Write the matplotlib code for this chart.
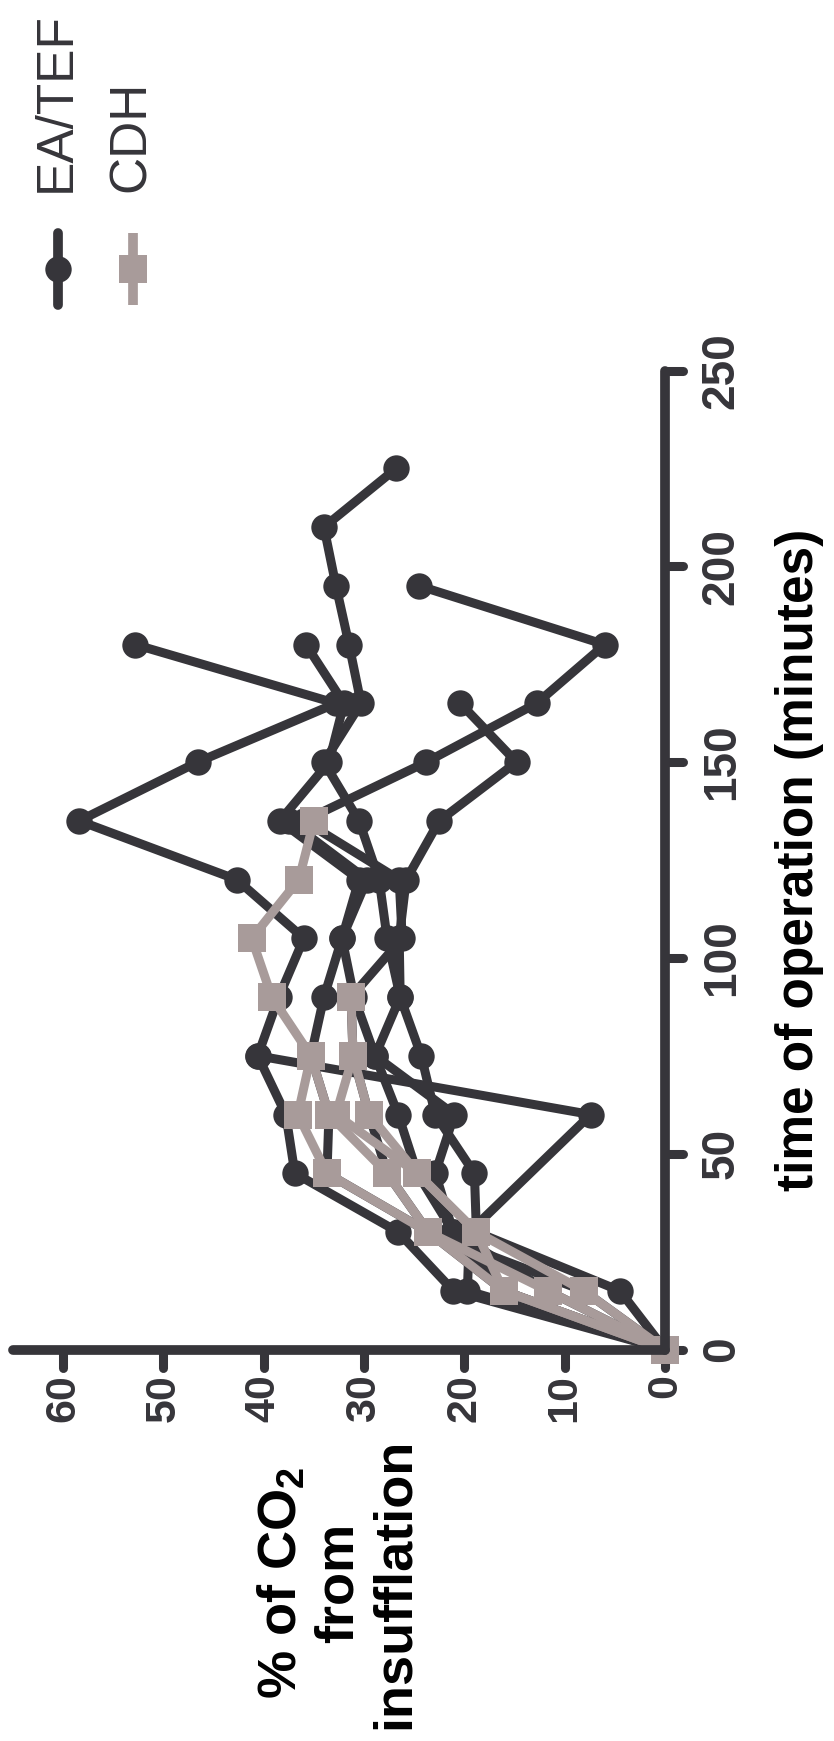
import numpy as np
import matplotlib
matplotlib.use("Agg")
import matplotlib.pyplot as plt
from matplotlib.lines import Line2D
from matplotlib.markers import MarkerStyle, TICKDOWN, TICKRIGHT

# ---- data: % of CO2 from insufflation, sampled every 15 minutes ----
minutes = [0, 15, 30, 45, 60, 75, 90, 105, 120, 135, 150, 165, 180, 195, 210, 225]

# EA/TEF patients (nan = no sample at that time point)
ea_tef_a = [0, 4.5, 18.8, 19.0, 22.9, 24.3, 26.4, 27.7, 28.5, 30.5, 34.0, 30.3, 31.5, 32.8, 34.0, 26.8]
ea_tef_b = [0, 8.1, 23.6, 27.7, 29.5, 31.1, 31.3, 26.2, 26.5, 36.0, 23.8, 12.8, 6.0, 24.5]
ea_tef_c = [0, 16.1, 21.1, 22.9, 21.0, 28.9, 26.4, 26.5, 25.8, 22.5, 14.8, 20.4]
ea_tef_d = [0, 19.7, 19.5, np.nan, 7.4, 40.6, 38.5, 36.0, 42.7, 58.4, 46.6, 32.8, 52.8]
ea_tef_e = [0, 11.7, 21.1, 24.7, 26.6, 28.9, 31.0, 32.2, 30.5, 38.4, 33.5, 32.0, 35.8]
ea_tef_f = [0, 21.1, 26.6, 36.9, 37.8, 40.6]
ea_tef_g = [0, 16.1, 23.6, 33.7, 33.5, 35.3, 34.0, 32.2, 29.7, 37.5]

# CDH patients
cdh_1 = [0, 16.1, 23.6, 33.7, 36.6, 35.3, 39.2, 41.2, 36.5, 35.0]
cdh_2 = [0, 8.1, 18.8, 24.7, 29.5, 31.1, 31.3]
cdh_3 = [0, 11.7, 23.6, 27.7, 33.5, 35.3]
cdh_4 = [0, 16.1, 18.8, 24.7, 32.8, 31.1]

ea_tef_series = [ea_tef_a, ea_tef_b, ea_tef_c, ea_tef_d, ea_tef_e, ea_tef_f, ea_tef_g]
cdh_series = [cdh_1, cdh_2, cdh_3, cdh_4]

x_ticks = [0, 10, 20, 30, 40, 50, 60]
y_ticks = [0, 50, 100, 150, 200, 250]

DARK = "#36353a"
GREY = "#a89b9a"

plt.rcParams.update({
    "font.family": ["Liberation Sans", "DejaVu Sans"],
    "font.weight": "bold",
    "mathtext.default": "regular",
    "text.color": DARK,
})

W, H = 834, 1741
fig = plt.figure(figsize=(W / 100, H / 100), dpi=100)


def fx(px):
    return px / W


def fy(py):
    return 1 - py / H


# axes: % CO2 runs right-to-left, time runs bottom-to-top
ax = fig.add_axes([fx(13), fy(1349.5), fx(665) - fx(13), fy(370.5) - fy(1349.5)])


def draw(series, color, marker, ms):
    for vals in series:
        v = np.asarray(vals, dtype=float)
        t = np.asarray(minutes[:len(v)], dtype=float)
        ok = ~np.isnan(v)
        ax.plot(v[ok], t[ok], color=color, lw=6.5, marker=marker, ms=ms,
                mew=0, clip_on=False, solid_joinstyle="round",
                solid_capstyle="round")


draw(ea_tef_series, DARK, "o", 19)
draw(cdh_series, GREY, "s", 19.5)

ax.set_xlim(65, 0)
ax.set_ylim(0, 250)

for side in ("top", "left"):
    ax.spines[side].set_visible(False)
for side in ("bottom", "right"):
    ax.spines[side].set_linewidth(7)
    ax.spines[side].set_color(DARK)
    ax.spines[side].set_capstyle("round")

ax.xaxis.set_ticks_position("bottom")
ax.yaxis.set_ticks_position("right")
ax.yaxis.set_label_position("right")
ax.set_xticks(x_ticks)
ax.set_yticks(y_ticks)

ax.tick_params(axis="both", direction="out", length=13, width=6.5,
               color=DARK, labelcolor=DARK)
ax.tick_params(axis="x", labelsize=31, pad=5, labelrotation=90)
ax.tick_params(axis="y", labelsize=33, pad=12, labelrotation=90)
for lbl in ax.get_yticklabels():
    lbl.set_va("center")
    lbl.set_ha("left")

for tk in ax.xaxis.get_major_ticks():
    tk.tick1line.set_marker(MarkerStyle(TICKDOWN, capstyle="round"))
for tk in ax.yaxis.get_major_ticks():
    tk.tick2line.set_marker(MarkerStyle(TICKRIGHT, capstyle="round"))

ax.set_ylabel("time of operation (minutes)", fontsize=37, fontweight="bold",
              rotation=90, ha="center", va="center", rotation_mode="anchor")
ax.yaxis.set_label_coords((800 - 13) / 652, 0.5)

ax.set_xlabel("% of CO$_2$\nfrom\ninsufflation", fontsize=39, fontweight="bold",
              rotation=90, ha="center", va="center", rotation_mode="anchor",
              multialignment="center", linespacing=1.15)
ax.xaxis.set_label_coords((338 - 13) / 652, (1349.5 - 1583) / 979)

# legend, drawn upright along the left margin
legend_items = [("EA/TEF", DARK, "o", 58, 56, 19, "round"),
                ("CDH", GREY, "s", 132.5, 131, 20, "butt")]
for label, color, marker, hx, tx, ms, cap in legend_items:
    fig.add_artist(Line2D([fx(hx)] * 3, [fy(233), fy(269), fy(305)],
                          transform=fig.transFigure, color=color, lw=7,
                          marker=marker, ms=ms, mew=0, markevery=[1],
                          solid_capstyle=cap))
    fig.text(fx(tx), fy(192), label, rotation=90, ha="center", va="bottom",
             fontsize=37, fontweight="normal", color=DARK)

fig.savefig("out.png", dpi=100)
